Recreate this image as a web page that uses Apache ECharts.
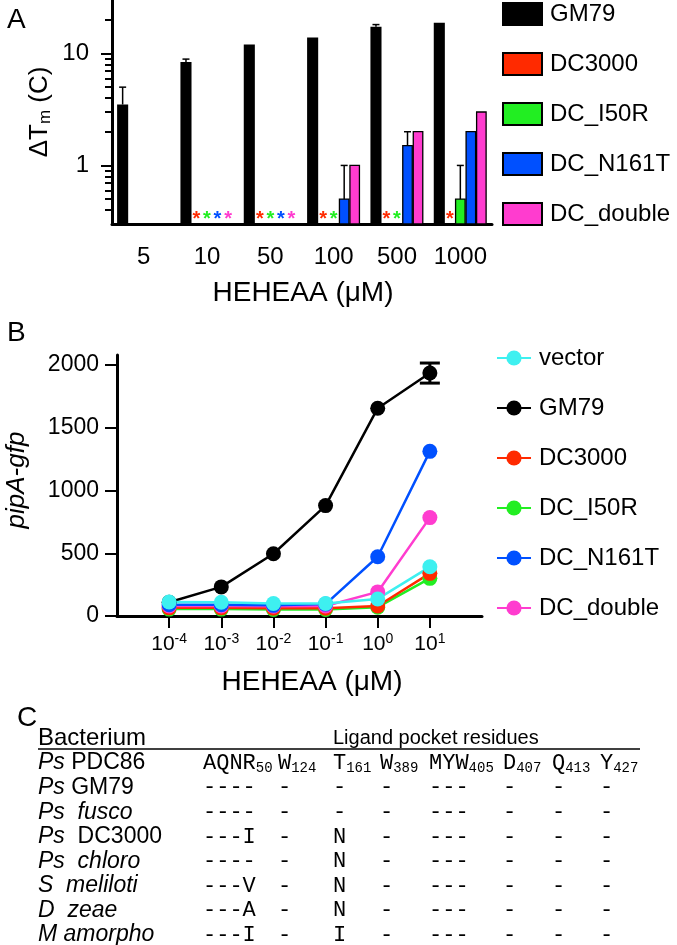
<!DOCTYPE html>
<html><head><meta charset="utf-8">
<script src="https://cdn.jsdelivr.net/npm/echarts@6/dist/echarts.min.js"></script>
<style>html,body{margin:0;padding:0;background:#fff}#c{width:677px;height:945px}</style>
</head><body><div id="c"></div>
<script>
// ---------- Panel A data ----------
const concA = ['5', '10', '50', '100', '500', '1000'];
const namesA = ['GM79', 'DC3000', 'DC_I50R', 'DC_N161T', 'DC_double'];
const gm79A      = [3.5, 8.4, 12.0, 13.9, 17.3, 18.8];
const gm79AErr   = [5.0, 8.9, null, null, 18.1, null];
const dc3000A    = [null, null, null, null, null, null];
const dc3000AErr = [null, null, null, null, null, null];
const i50rA      = [null, null, null, null, null, 0.5];
const i50rAErr   = [null, null, null, null, null, 1.0];
const n161tA     = [null, null, null, 0.5, 1.5, 2.0];
const n161tAErr  = [null, null, null, 1.0, 2.0, null];
const doubleA    = [null, null, null, 1.0, 2.0, 3.0];
const doubleAErr = [null, null, null, null, null, null];
// not detected markers (asterisks)
const gm79AND   = [0, 0, 0, 0, 0, 0];
const dc3000AND = [0, 1, 1, 1, 1, 1];
const i50rAND   = [0, 1, 1, 1, 1, 0];
const n161tAND  = [0, 1, 1, 0, 0, 0];
const doubleAND = [0, 1, 1, 0, 0, 0];
const yMinorTicksA = [0.4, 0.5, 0.6, 0.7, 0.8, 0.9, 2, 3, 4, 5, 6, 7, 8, 9, 20];
const yMajorTicksA = [1, 10];

// ---------- Panel B data ----------
const concB = [1e-4, 1e-3, 1e-2, 1e-1, 1, 10];
const namesB = ['vector', 'GM79', 'DC3000', 'DC_I50R', 'DC_N161T', 'DC_double'];
const vectorB = [112, 110, 100, 100, 136, 392];
const gm79B   = [110, 232, 496, 880, 1656, 1936];
const gm79BErr = [null, null, null, null, null, 80];
const dc3000B = [65, 65, 62, 62, 80, 340];
const i50rB   = [55, 55, 52, 52, 70, 300];
const n161tB  = [90, 90, 85, 95, 472, 1312];
const doubleB = [80, 80, 78, 80, 192, 784];
const yTicksB = [0, 500, 1000, 1500, 2000];
const xTicksB = [1e-4, 1e-3, 1e-2, 1e-1, 1, 10];

// ---------- Panel C data ----------
const bactGenus = ['Ps', 'Ps', 'Ps', 'Ps', 'Ps', 'S', 'D', 'M'];
const bactStrain = ['PDC86', 'GM79', 'fusco', 'DC3000', 'chloro', 'meliloti', 'zeae', 'amorpho'];
const bactStrainItalic = [false, false, true, false, true, true, true, true];
const bactGap = [' ', ' ', '  ', '  ', '  ', '  ', '  ', ' '];
const residueHeads = [['AQNR', '50'], ['W', '124'], ['T', '161'], ['W', '389'], ['MYW', '405'], ['D', '407'], ['Q', '413'], ['Y', '427']];
const residueRows = [
  ['----', '-', '-', '-', '---', '-', '-', '-'],
  ['----', '-', '-', '-', '---', '-', '-', '-'],
  ['---I', '-', 'N', '-', '---', '-', '-', '-'],
  ['----', '-', 'N', '-', '---', '-', '-', '-'],
  ['---V', '-', 'N', '-', '---', '-', '-', '-'],
  ['---A', '-', 'N', '-', '---', '-', '-', '-'],
  ['---I', '-', 'I', '-', '---', '-', '-', '-']
];

// ---------- styles / layout ----------
const FF = "'Liberation Sans', Arial, Helvetica, sans-serif";
const MONO = "'Liberation Mono', 'Courier New', monospace";
const colA = ['#000000', '#ff2a00', '#22ee22', '#0050ff', '#ff3ccf'];
const colB = {vector: '#3ef0f0', GM79: '#000000', DC3000: '#ff2a00', DC_I50R: '#22ee22', DC_N161T: '#0050ff', DC_double: '#ff3ccf'};
const YMIN_A = 0.3, YMAX_A = 30;

const chart = echarts.init(document.getElementById('c'), null, {renderer: 'canvas'});

const valsA = [gm79A, dc3000A, i50rA, n161tA, doubleA];
const errsA = [gm79AErr, dc3000AErr, i50rAErr, n161tAErr, doubleAErr];
const ndA = [gm79AND, dc3000AND, i50rAND, n161tAND, doubleAND];

function barRender(k) {
  return function (params, api) {
    const ci = api.value(0), v = api.value(1);
    const band = api.size([1, 0], [ci, 1])[0];
    const pTop = api.coord([ci, v]);
    const pBase = api.coord([ci, YMIN_A]);
    const slot = band * 0.166;
    const w = band * (k === 0 ? 0.175 : 0.15);
    const cx = pTop[0] + (k - 2) * slot;
    const children = [{
      type: 'rect',
      shape: {x: cx - w / 2, y: pTop[1], width: w, height: pBase[1] - pTop[1]},
      style: {fill: colA[k], stroke: '#000', lineWidth: k === 0 ? 0 : 1.3}
    }];
    const e = api.value(2);
    if (e != null && !isNaN(e) && e > 0) {
      const pe = api.coord([ci, e]);
      children.push({type: 'line', shape: {x1: cx, y1: pTop[1], x2: cx, y2: pe[1]}, style: {stroke: '#000', lineWidth: 1.5}});
      children.push({type: 'line', shape: {x1: cx - 3.5, y1: pe[1], x2: cx + 3.5, y2: pe[1]}, style: {stroke: '#000', lineWidth: 1.5}});
    }
    return {type: 'group', children};
  };
}

const seriesA = namesA.map((n, k) => ({
  type: 'custom', name: n, xAxisIndex: 0, yAxisIndex: 0,
  itemStyle: {color: colA[k], borderColor: '#000', borderWidth: 2},
  renderItem: barRender(k),
  encode: {x: 0, y: 1},
  data: concA.map((c, i) => [i, valsA[k][i], errsA[k][i]]).filter(d => d[1] != null)
}));

const starData = [];
ndA.forEach((arr, k) => arr.forEach((f, i) => { if (f) starData.push([i, YMIN_A, k]); }));
const starSeries = {
  type: 'custom', xAxisIndex: 0, yAxisIndex: 0, encode: {x: 0, y: 1},
  data: starData,
  renderItem: function (params, api) {
    const ci = api.value(0), k = api.value(2);
    const band = api.size([1, 0], [ci, 1])[0];
    const p = api.coord([ci, YMIN_A]);
    const cx = p[0] + (k - 2) * band * 0.166;
    return {type: 'text', x: cx, y: p[1] - 5,
      style: {text: '*', fill: colA[k], font: 'bold 20px ' + FF, align: 'center', verticalAlign: 'middle'}};
  }
};

const lineOrder = ['GM79', 'DC_I50R', 'DC3000', 'DC_double', 'DC_N161T', 'vector'];
const valsB = {vector: vectorB, GM79: gm79B, DC3000: dc3000B, DC_I50R: i50rB, DC_N161T: n161tB, DC_double: doubleB};

const errSeriesB = {
  type: 'custom', xAxisIndex: 1, yAxisIndex: 2, encode: {x: 0, y: 1},
  data: concB.map((x, i) => [x, gm79B[i], gm79BErr[i]]).filter(d => d[2] != null),
  renderItem: function (params, api) {
    const x = api.value(0), y = api.value(1), e = api.value(2);
    const pl = api.coord([x, y - e]), ph = api.coord([x, y + e]);
    return {type: 'group', children: [
      {type: 'line', shape: {x1: pl[0], y1: pl[1], x2: ph[0], y2: ph[1]}, style: {stroke: '#000', lineWidth: 3}},
      {type: 'line', shape: {x1: pl[0] - 10, y1: pl[1], x2: pl[0] + 10, y2: pl[1]}, style: {stroke: '#000', lineWidth: 3}},
      {type: 'line', shape: {x1: ph[0] - 10, y1: ph[1], x2: ph[0] + 10, y2: ph[1]}, style: {stroke: '#000', lineWidth: 3}}
    ]};
  }
};

const seriesB = lineOrder.map(n => ({
  type: 'line', name: 'B:' + n, xAxisIndex: 1, yAxisIndex: 2,
  symbol: 'circle', symbolSize: 15,
  lineStyle: {width: 2.5, color: colB[n]},
  itemStyle: {color: colB[n]},
  data: concB.map((x, i) => [x, valsB[n][i]])
}));

// ---------- table graphic ----------
const colX = [203, 278, 333, 380, 429, 503, 552, 600];
const rowY0 = 763, rowH = 24.57;
const tableEls = [];
tableEls.push({type: 'text', x: 38, y: 738, style: {text: 'Bacterium', font: '24px ' + FF, fill: '#000', align: 'left', verticalAlign: 'middle'}});
tableEls.push({type: 'text', x: 333, y: 738, style: {text: 'Ligand pocket residues', font: '20px ' + FF, fill: '#000', align: 'left', verticalAlign: 'middle'}});
tableEls.push({type: 'line', shape: {x1: 38, y1: 749, x2: 640, y2: 749}, style: {stroke: '#000', lineWidth: 1.5}});
bactGenus.forEach((g, r) => {
  tableEls.push({type: 'text', x: 38, y: rowY0 + r * rowH, style: {
    text: '{i|' + g + '}{n|' + bactGap[r] + '}{' + (bactStrainItalic[r] ? 'i' : 'n') + '|' + bactStrain[r] + '}',
    rich: {i: {font: 'italic 23px ' + FF, fill: '#000'}, n: {font: '23px ' + FF, fill: '#000'}},
    align: 'left', verticalAlign: 'middle'}});
});
residueHeads.forEach((h, c) => {
  tableEls.push({type: 'text', x: colX[c], y: rowY0, style: {
    text: '{m|' + h[0] + '}{s|' + h[1] + '}',
    rich: {m: {font: '22px ' + MONO, fill: '#000', lineHeight: 24}, s: {font: '14px ' + MONO, fill: '#000', lineHeight: 14, verticalAlign: 'bottom'}},
    align: 'left', verticalAlign: 'middle'}});
});
residueRows.forEach((row, r) => {
  row.forEach((t, c) => {
    tableEls.push({type: 'text', x: colX[c], y: rowY0 + (r + 1) * rowH, style: {
      text: t, font: '22px ' + MONO, fill: '#000', align: 'left', verticalAlign: 'middle'}});
  });
});

const option = {
  animation: false,
  backgroundColor: '#fff',
  textStyle: {fontFamily: FF},
  grid: [
    {left: 112, right: 185, top: -2, bottom: 721},
    {left: 117, right: 195, top: 355, bottom: 329}
  ],
  xAxis: [
    {type: 'category', gridIndex: 0, data: concA, boundaryGap: true,
      axisLine: {lineStyle: {color: '#000', width: 3}},
      axisTick: {alignWithLabel: true, interval: 0, length: 11, lineStyle: {color: '#000', width: 2}},
      axisLabel: {interval: 0, fontSize: 24, color: '#000', margin: 21, fontFamily: FF}},
    {type: 'log', gridIndex: 1, min: 1e-5, max: 100, logBase: 10,
      axisLine: {lineStyle: {color: '#000', width: 3}},
      axisTick: {customValues: xTicksB, length: 12, lineStyle: {color: '#000', width: 2}},
      axisLabel: {customValues: xTicksB, margin: 16, color: '#000',
        formatter: v => '{b|10}{s|' + Math.round(Math.log10(v)) + '}',
        rich: {b: {fontSize: 21, fontFamily: FF, color: '#000', lineHeight: 24}, s: {fontSize: 14, fontFamily: FF, color: '#000', lineHeight: 14, verticalAlign: 'top'}}},
      splitLine: {show: false}}
  ],
  yAxis: [
    {type: 'log', gridIndex: 0, position: 'left', min: YMIN_A, max: YMAX_A, logBase: 10,
      axisLine: {show: true, lineStyle: {color: '#000', width: 3}},
      axisTick: {show: true, customValues: yMinorTicksA, length: 7, lineStyle: {color: '#000', width: 2}},
      axisLabel: {customValues: yMajorTicksA, fontSize: 24, color: '#000', margin: 23, fontFamily: FF},
      splitLine: {show: false}},
    {type: 'log', gridIndex: 0, position: 'left', min: YMIN_A, max: YMAX_A, logBase: 10,
      axisLine: {show: false},
      axisTick: {show: true, customValues: yMajorTicksA, length: 11, lineStyle: {color: '#000', width: 2}},
      axisLabel: {show: false},
      splitLine: {show: false}},
    {type: 'value', gridIndex: 1, min: 0, max: 2080,
      axisLine: {show: true, lineStyle: {color: '#000', width: 3}},
      axisTick: {show: true, customValues: yTicksB, length: 12, lineStyle: {color: '#000', width: 2}},
      axisLabel: {customValues: yTicksB, fontSize: 23, color: '#000', margin: 18, fontFamily: FF, formatter: v => String(v)},
      splitLine: {show: false}}
  ],
  legend: [
    {data: namesA, orient: 'vertical', left: 502, top: 2, padding: 0, icon: 'rect', itemWidth: 39, itemHeight: 22, itemGap: 26,
      itemStyle: {borderColor: '#000', borderWidth: 2}, selectedMode: false,
      textStyle: {fontSize: 24, color: '#000', fontFamily: FF, lineHeight: 24, padding: [0, 0, 0, 3]}},
    {data: namesB.map(n => 'B:' + n), formatter: n => n.slice(2), orient: 'vertical', left: 496, top: 346, padding: 0,
      itemWidth: 34, itemHeight: 19, itemGap: 26, selectedMode: false,
      textStyle: {fontSize: 24, color: '#000', fontFamily: FF, lineHeight: 24, padding: [0, 0, 0, 3]}}
  ],
  graphic: [
    {type: 'text', x: 7, y: 20, style: {text: 'A', font: '28px ' + FF, fill: '#000', align: 'left', verticalAlign: 'middle'}},
    {type: 'text', x: 40, y: 112, rotation: Math.PI / 2, style: {
      text: '{a|ΔT}{s|m}{a| (C)}',
      rich: {a: {font: '26px ' + FF, fill: '#000', lineHeight: 28}, s: {font: '17px ' + FF, fill: '#000', lineHeight: 17, verticalAlign: 'bottom'}},
      align: 'center', verticalAlign: 'middle'}},
    {type: 'text', x: 303, y: 293, style: {text: 'HEHEAA (μM)', font: '28px ' + FF, fill: '#000', align: 'center', verticalAlign: 'middle'}},
    {type: 'text', x: 7, y: 333, style: {text: 'B', font: '28px ' + FF, fill: '#000', align: 'left', verticalAlign: 'middle'}},
    {type: 'text', x: 17, y: 480, rotation: Math.PI / 2, style: {text: 'pipA-gfp', font: 'italic 26px ' + FF, fill: '#000', align: 'center', verticalAlign: 'middle'}},
    {type: 'text', x: 312, y: 682, style: {text: 'HEHEAA (μM)', font: '28px ' + FF, fill: '#000', align: 'center', verticalAlign: 'middle'}},
    {type: 'text', x: 17, y: 718, style: {text: 'C', font: '28px ' + FF, fill: '#000', align: 'left', verticalAlign: 'middle'}}
  ].concat(tableEls),
  series: seriesA.concat([starSeries, errSeriesB]).concat(seriesB)
};
chart.setOption(option);
</script>
</body></html>
